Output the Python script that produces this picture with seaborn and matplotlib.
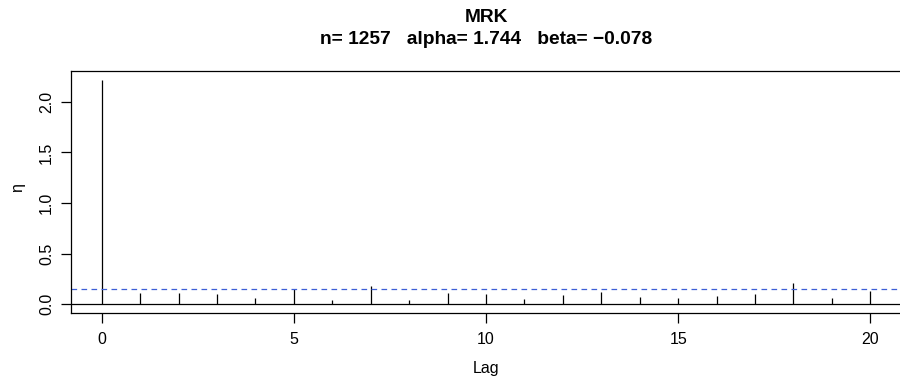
import numpy as np
import pandas as pd
import seaborn as sns
import matplotlib
matplotlib.use("Agg")
import matplotlib.pyplot as plt

# values
lags = [0, 1, 2, 3, 4, 5, 6, 7, 8, 9, 10, 11, 12, 13, 14, 15, 16, 17, 18, 19, 20]
eta = [2.218, 0.115, 0.115, 0.099, 0.066, 0.148, 0.046, 0.178, 0.039, 0.109, 0.099,
       0.056, 0.095, 0.118, 0.069, 0.059, 0.082, 0.105, 0.207, 0.066, 0.132]
threshold = 0.155
x_ticks = [0, 5, 10, 15, 20]
y_ticks = [0.0, 0.5, 1.0, 1.5, 2.0]
y_ticklabels = ["0.0", "0.5", "1.0", "1.5", "2.0"]
title_main = "MRK"
title_sub = "n= 1257   alpha= 1.744   beta= \u22120.078"

df = pd.DataFrame({"lag": lags, "eta": eta})

sns.set_theme(style="ticks")
plt.rcParams["font.family"] = ["Liberation Sans", "DejaVu Sans"]
plt.rcParams["axes.linewidth"] = 0.9
plt.rcParams["text.color"] = "black"

fig = plt.figure(figsize=(9, 3.76), dpi=100)
ax = fig.add_axes([71 / 900, 1 - 313.3 / 376, 830 / 900, 242.6 / 376])

ax.vlines(df["lag"], 0, df["eta"], color="black", linewidth=0.9)
ax.axhline(0, color="black", linewidth=0.9)
ax.axhline(threshold, color="#3d5fd6", linewidth=0.9, linestyle=(0, (4.5, 3.5)))

ymax = max(eta)
ax.set_xlim(-0.04 * 20, 20 * 1.04)
ax.set_ylim(-0.04 * ymax, ymax * 1.04)

ax.set_xticks(x_ticks)
ax.set_xticklabels([str(t) for t in x_ticks])
ax.set_yticks(y_ticks)
ax.set_yticklabels(y_ticklabels, rotation=90, va="center")
ax.tick_params(axis="both", length=7.2, width=0.9, color="black",
               labelsize=11.5, labelcolor="black")
ax.tick_params(axis="x", pad=6.5)
ax.tick_params(axis="y", pad=5)
for s in ax.spines.values():
    s.set_color("black")

ax.set_xlabel("Lag", fontsize=11.5, color="black")
ax.xaxis.label.set_va("baseline")
ax.xaxis.set_label_coords(0.5, -0.246)
ax.set_ylabel("\u03b7", fontsize=11.5, color="black")
ax.yaxis.label.set_va("center")
ax.yaxis.set_label_coords(-0.064, 0.52)

cx = (71 + 901) / 2 / 900
fig.text(cx, 1 - 21.5 / 376, title_main, ha="center", va="baseline",
         fontsize=13.8, fontweight="bold", color="black")
fig.text(cx, 1 - 43.5 / 376, title_sub, ha="center", va="baseline",
         fontsize=13.8, fontweight="bold", color="black")

fig.savefig("out.png", dpi=100)
